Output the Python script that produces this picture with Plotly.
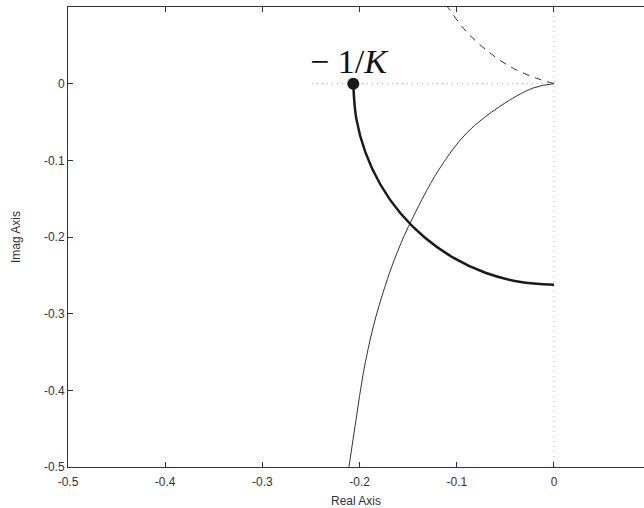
import plotly.graph_objects as go

# Thick arc (from -1/K down to the imaginary axis)
arc_re = [-0.2065, -0.2034, -0.1940, -0.1788, -0.1582, -0.1327, -0.1033, -0.0706, -0.0358, 0.0]
arc_im = [0.0, -0.0456, -0.0897, -0.1312, -0.1687, -0.2010, -0.2272, -0.2466, -0.2584, -0.2624]

# Thin solid curve
thin_re = [0.0, -0.0213, -0.0556, -0.0899, -0.1185, -0.1497, -0.1643, -0.1739, -0.1859,
           -0.1962, -0.2037, -0.2109, -0.2121]
thin_im = [0.0, -0.0056, -0.0296, -0.0644, -0.1123, -0.1863, -0.2298, -0.2646, -0.3168,
           -0.3777, -0.4386, -0.4996, -0.5100]

# Dashed curve (mirror branch)
dash_re = [0.0, -0.0178, -0.0419, -0.0658, -0.0899, -0.1100, -0.1160]
dash_im = [0.0, 0.0070, 0.0200, 0.0400, 0.0675, 0.1009, 0.1110]

# Critical point
crit_re = [-0.2065]
crit_im = [0.0]

x_ticks = [-0.5, -0.4, -0.3, -0.2, -0.1, 0, 0.1]
x_tick_text = ["-0.5", "-0.4", "-0.3", "-0.2", "-0.1", "0", "0.1"]
y_ticks = [-0.5, -0.4, -0.3, -0.2, -0.1, 0]
y_tick_text = ["-0.5", "-0.4", "-0.3", "-0.2", "-0.1", "0"]

fig = go.Figure()

# dotted reference lines
fig.add_trace(go.Scatter(x=[-0.249, 0], y=[0, 0], mode="lines",
                         line=dict(color="#aaaaaa", width=1, dash="1px,4px"),
                         hoverinfo="skip", showlegend=False))
fig.add_trace(go.Scatter(x=[0, 0], y=[-0.5, 0.1], mode="lines",
                         line=dict(color="#aaaaaa", width=1, dash="1px,4px"),
                         hoverinfo="skip", showlegend=False))

fig.add_trace(go.Scatter(x=dash_re, y=dash_im, mode="lines",
                         line=dict(color="#333333", width=1, dash="7px,6px", shape="spline"),
                         showlegend=False))
fig.add_trace(go.Scatter(x=thin_re, y=thin_im, mode="lines",
                         line=dict(color="#333333", width=1, shape="spline"),
                         showlegend=False))
fig.add_trace(go.Scatter(x=arc_re, y=arc_im, mode="lines",
                         line=dict(color="#1a1a1a", width=2.5, shape="spline"),
                         showlegend=False))
fig.add_trace(go.Scatter(x=crit_re, y=crit_im, mode="markers",
                         marker=dict(color="#1a1a1a", size=12),
                         showlegend=False))

fig.add_annotation(x=-0.171, y=0.0, xref="x", yref="y",
                   text="− 1/<i>K</i>", showarrow=False,
                   xanchor="right", yanchor="bottom", yshift=2, xshift=3,
                   font=dict(family="Liberation Serif", size=34, color="#111111"))

axis_font = dict(family="Liberation Sans, Arial, sans-serif", size=12, color="#333333")

fig.update_layout(
    width=644, height=508,
    margin=dict(l=68, r=0, t=7, b=41),
    paper_bgcolor="white", plot_bgcolor="white",
    font=axis_font,
    xaxis=dict(range=[-0.5, 0.0926], tickvals=x_ticks, ticktext=x_tick_text,
               showgrid=False, zeroline=False, showline=True, linecolor="#333333",
               linewidth=1, mirror="ticks", ticks="inside", ticklen=5,
               tickcolor="#333333", tickfont=axis_font, ticklabelstandoff=4,
               title=dict(text="Real Axis", font=axis_font, standoff=8)),
    yaxis=dict(range=[-0.5, 0.1], tickvals=y_ticks, ticktext=y_tick_text,
               showgrid=False, zeroline=False, showline=True, linecolor="#333333",
               linewidth=1, ticks="inside", ticklen=5, tickcolor="#333333",
               tickfont=axis_font,
               title=dict(text="Imag Axis", font=axis_font, standoff=20)),
)

fig.write_html("out.html", config={"displayModeBar": False},
               post_script="document.body.style.margin='0';")
